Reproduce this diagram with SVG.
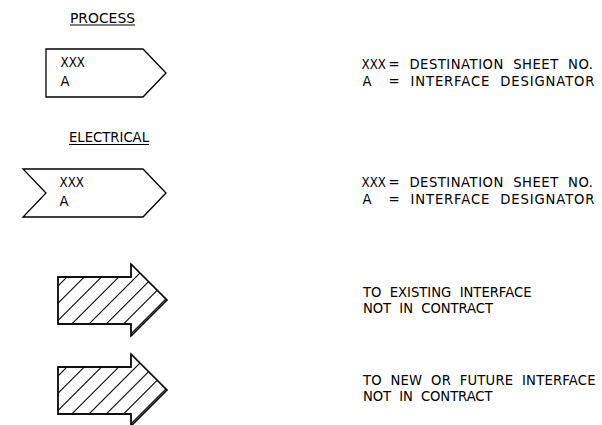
<svg xmlns="http://www.w3.org/2000/svg" xmlns:xlink="http://www.w3.org/1999/xlink" width="602" height="425" viewBox="0 0 602 425">
<style>
  text { font-family: "DejaVu Sans", "Liberation Sans", Arial, sans-serif; font-size: 13.2px; fill: #000; white-space: pre; }
  text.cond { font-family: "DejaVu Sans Condensed", "DejaVu Sans", "Liberation Sans Narrow", sans-serif; }
  .outline { fill: #fff; stroke: #000; stroke-width: 1.3; stroke-linejoin: miter; }
  .hatch line { stroke: #000; stroke-width: 1.1; }
  .ul { stroke: #000; stroke-width: 1; }
</style>
<defs>
  <path id="hatchArrowShape" d="M58,277 H131 V264 L167,300 L131,336 V324 H58 Z"/>
  <clipPath id="hatchClip"><use xlink:href="#hatchArrowShape"/></clipPath>
  <g id="hatchArrow">
    <use xlink:href="#hatchArrowShape" class="outline"/>
    <g class="hatch" clip-path="url(#hatchClip)">
      <line x1="-1" y1="345" x2="89" y2="255"/>
      <line x1="16.25" y1="345" x2="106.25" y2="255"/>
      <line x1="33.5" y1="345" x2="123.5" y2="255"/>
      <line x1="50.75" y1="345" x2="140.75" y2="255"/>
      <line x1="68" y1="345" x2="158" y2="255"/>
      <line x1="85.25" y1="345" x2="175.25" y2="255"/>
      <line x1="102.5" y1="345" x2="192.5" y2="255"/>
      <line x1="119.75" y1="345" x2="209.75" y2="255"/>
    </g>
    <path d="M58,277 H131 V264 L167,300 L131,336 V324 H58 Z" fill="none" stroke="#000" stroke-width="1.3"/>
  </g>
</defs>

<g id="process-title">
  <text x="70" y="22.5" textLength="65" lengthAdjust="spacingAndGlyphs">PROCESS</text>
  <line class="ul" x1="70" y1="25" x2="135" y2="25"/>
</g>
<g id="process-symbol">
  <path class="outline" d="M46,49 H143 L166,73 L143,97 H46 Z"/>
  <text class="cond" x="60.5" y="67.3">XXX</text>
  <text x="60.5" y="85.5">A</text>
</g>
<g id="process-legend">
  <text class="cond" x="361.5" y="69">XXX</text>
  <text x="388.5" y="69" textLength="204.5" lengthAdjust="spacing">=  DESTINATION  SHEET  NO.</text>
  <text x="362.5" y="86">A</text>
  <text x="388.5" y="86" textLength="206" lengthAdjust="spacing">=  INTERFACE  DESIGNATOR</text>
</g>

<g id="electrical-title">
  <text x="69" y="142" textLength="80" lengthAdjust="spacingAndGlyphs">ELECTRICAL</text>
  <line class="ul" x1="69" y1="144.5" x2="149" y2="144.5"/>
</g>
<g id="electrical-symbol">
  <path class="outline" d="M23,169 H143 L166,193 L143,217 H23 L46,193 Z"/>
  <text class="cond" x="59.5" y="187">XXX</text>
  <text x="59.5" y="205.5">A</text>
</g>
<g id="electrical-legend">
  <text class="cond" x="361.5" y="186.5">XXX</text>
  <text x="388.5" y="186.5" textLength="204.5" lengthAdjust="spacing">=  DESTINATION  SHEET  NO.</text>
  <text x="362.5" y="204">A</text>
  <text x="388.5" y="204" textLength="206" lengthAdjust="spacing">=  INTERFACE  DESIGNATOR</text>
</g>

<g id="existing-interface">
  <use xlink:href="#hatchArrow"/>
  <text x="363" y="297" textLength="168.5" lengthAdjust="spacing">TO  EXISTING  INTERFACE</text>
  <text x="363" y="313" textLength="130" lengthAdjust="spacing">NOT  IN  CONTRACT</text>
</g>

<g id="new-future-interface">
  <use xlink:href="#hatchArrow" transform="translate(0,90)"/>
  <text x="363" y="385" textLength="232.5" lengthAdjust="spacing">TO  NEW  OR  FUTURE  INTERFACE</text>
  <text x="363" y="401" textLength="129.5" lengthAdjust="spacing">NOT  IN  CONTRACT</text>
</g>

<g id="connectors"></g>
</svg>
